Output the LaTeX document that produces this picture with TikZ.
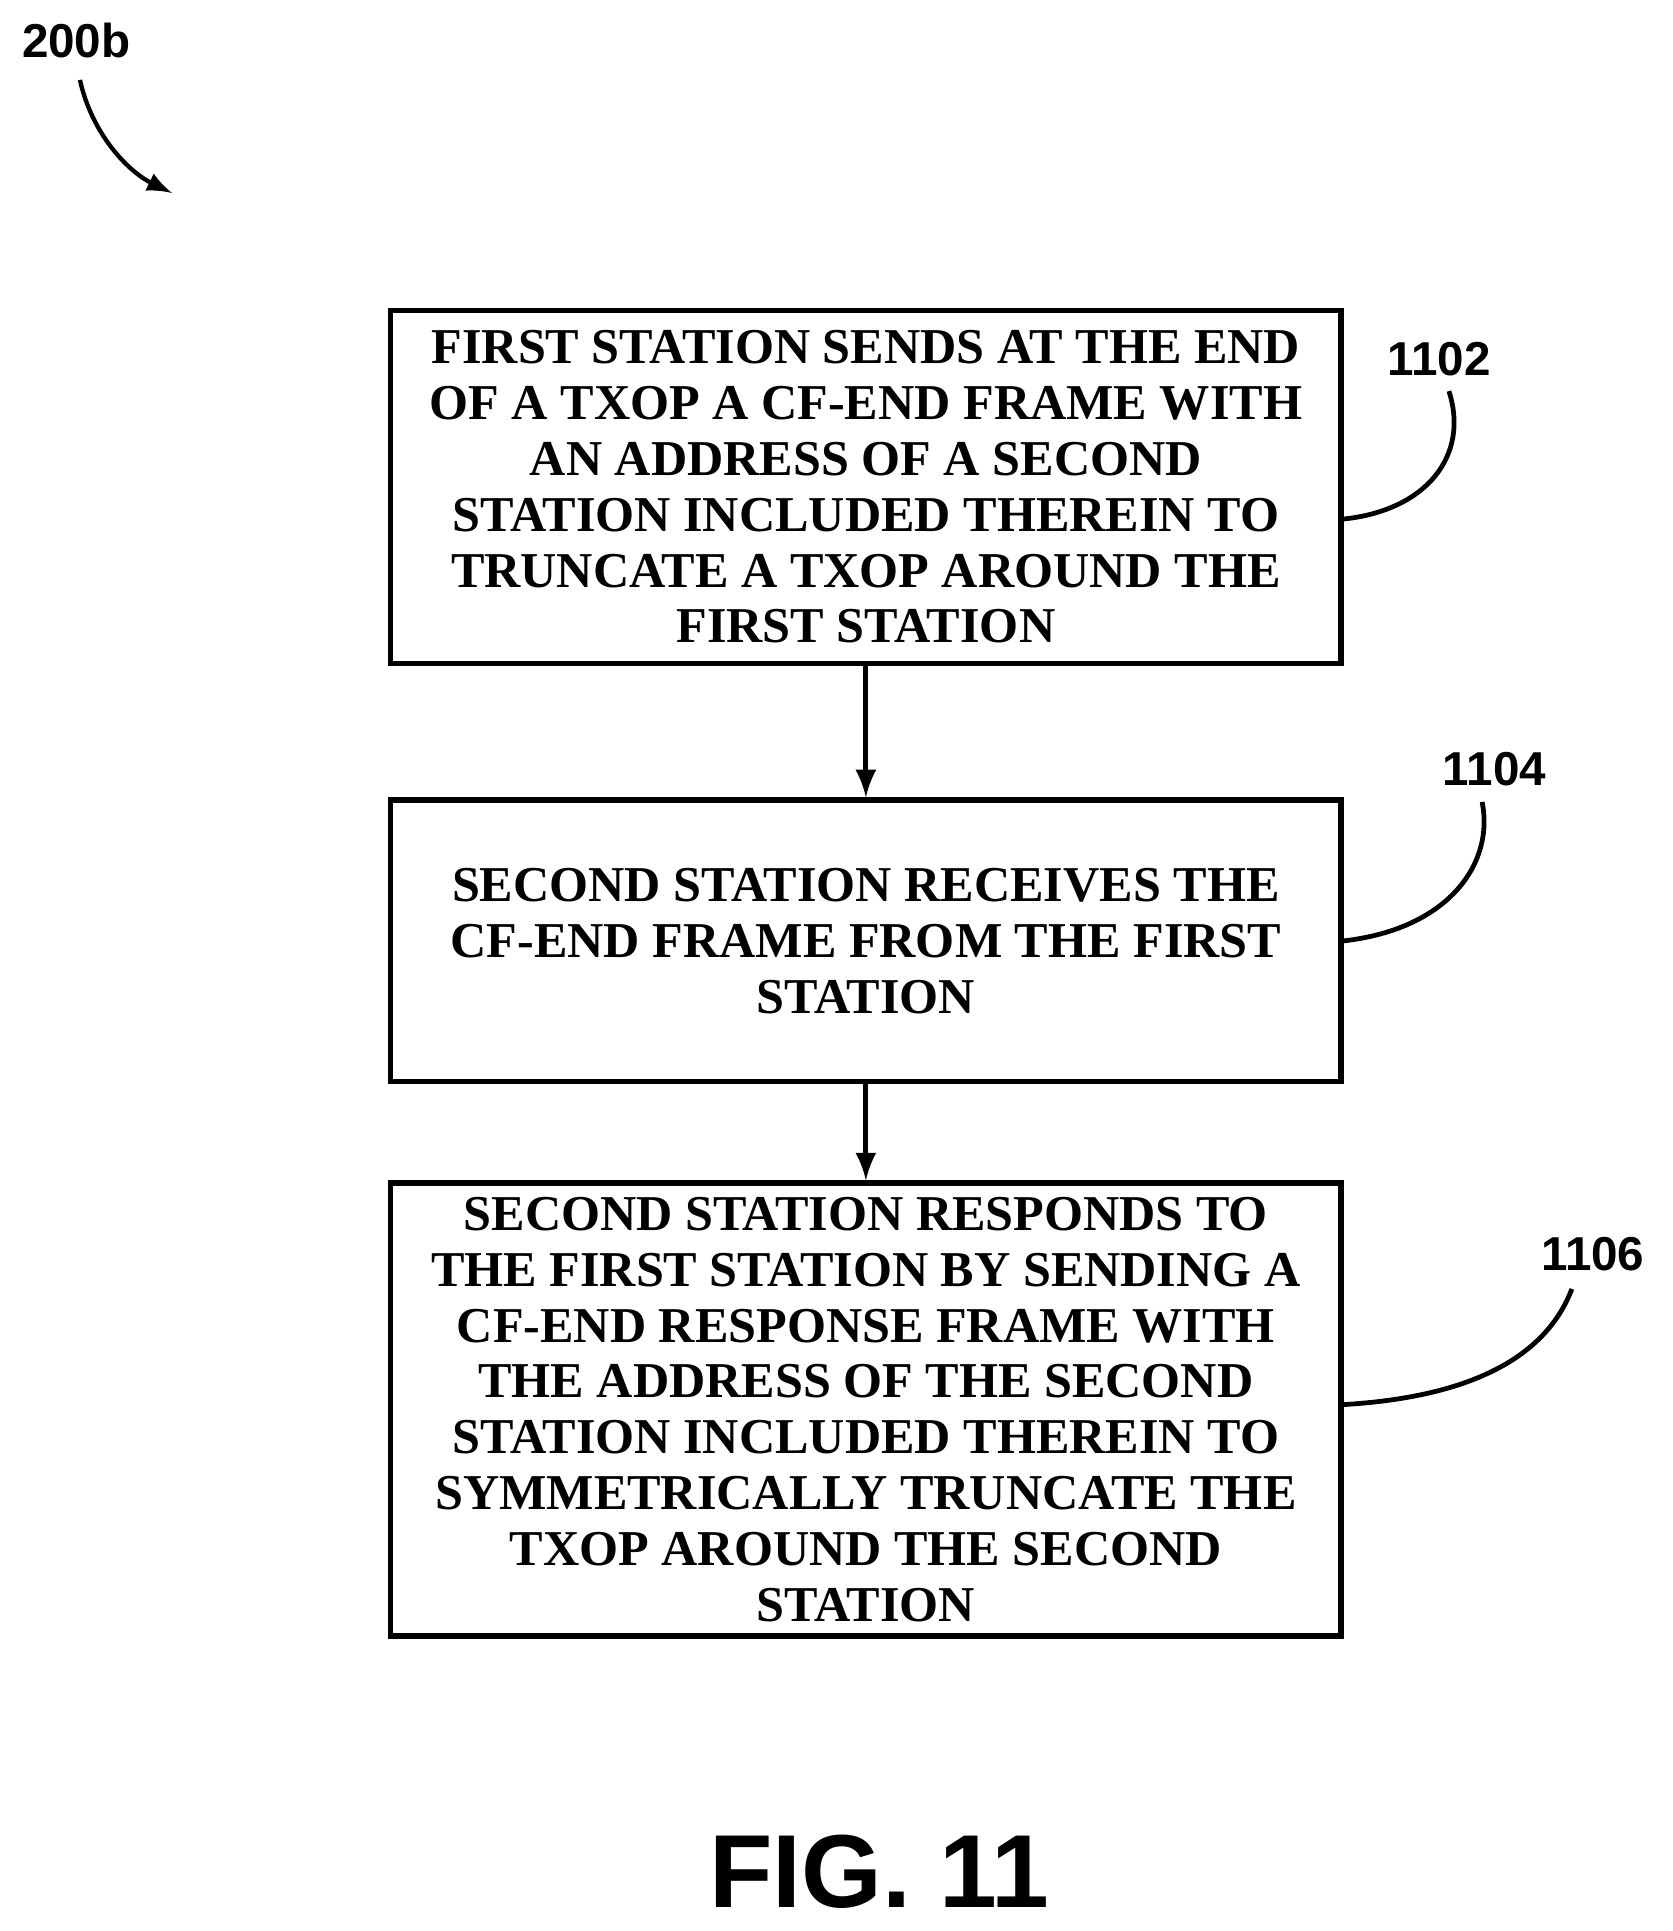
\documentclass[tikz,border=0pt]{standalone}
\usepackage{fontspec}
\setmainfont{Liberation Serif}
\newfontfamily\lsans{Liberation Sans}
\begin{document}
\begin{tikzpicture}[x=0.01cm,y=-0.01cm,
  box/.style={draw,line width=1.2pt,minimum width=7.72cm,inner sep=0pt,align=center,font=\fontsize{11.6}{12.9}\selectfont\bfseries},
  lab/.style={font=\lsans\fontsize{11}{13}\selectfont\bfseries},
  arr/.style={-latex,line width=1.2pt},
  lead/.style={line width=1.1pt}]
\useasboundingbox (0,0) rectangle (1360,1570);
\node[box,minimum height=2.87cm] (b1) at (704,396) {FIRST STATION SENDS AT THE END\\OF A TXOP A CF-END FRAME WITH\\AN ADDRESS OF A SECOND\\STATION INCLUDED THEREIN TO\\TRUNCATE A TXOP AROUND THE\\FIRST STATION};
\node[box,minimum height=2.29cm] (b2) at (704,765) {SECOND STATION RECEIVES THE\\CF-END FRAME FROM THE FIRST\\STATION};
\node[box,minimum height=3.68cm] (b3) at (704,1146) {SECOND STATION RESPONDS TO\\THE FIRST STATION BY SENDING A\\CF-END RESPONSE FRAME WITH\\THE ADDRESS OF THE SECOND\\STATION INCLUDED THEREIN TO\\SYMMETRICALLY TRUNCATE THE\\TXOP AROUND THE SECOND\\STATION};
\draw[arr] (b1) -- (b2);
\draw[arr] (b2) -- (b3);
\node[lab] (l1) at (1170,292) {1102};
\node[lab] (l2) at (1215,625) {1104};
\node[lab] (l3) at (1295,1020) {1106};
\draw[lead] (b1.east |- 0,422) .. controls (1160,415) and (1195,370) .. (1178,318);
\draw[lead] (b2.east |- 0,765) .. controls (1180,755) and (1215,700) .. (1205,652);
\draw[lead] (b3.east |- 0,1142) .. controls (1210,1135) and (1260,1095) .. (1278,1048);
\node[lab] (l0) at (62,33) {200b};
\coordinate (a0) at (140,157);
\draw[arr,line width=1pt] (65,65) .. controls (75,110) and (105,140) .. (a0);
\node[font=\lsans\fontsize{24}{27}\selectfont\bfseries] (fig) at (715,1522) {FIG. 11};
\end{tikzpicture}
\end{document}
